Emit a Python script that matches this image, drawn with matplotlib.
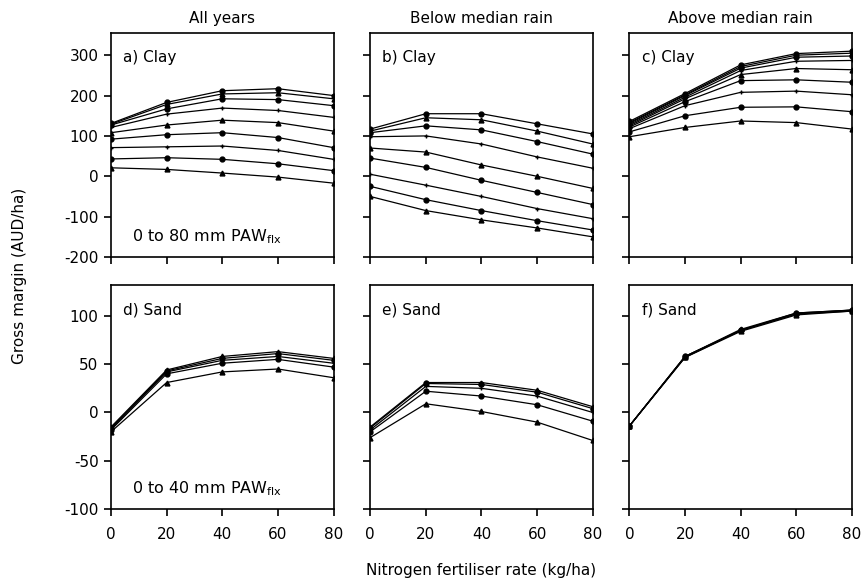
import matplotlib
matplotlib.use("Agg")
import matplotlib.pyplot as plt

plt.rcParams['font.family'] = ['DejaVu Sans']
plt.rcParams['axes.unicode_minus'] = False

n_rate = [0, 20, 40, 60, 80]

# a) Clay, all years (lines from low to high PAW)
clay_all = [
    [21, 17, 8, -2, -17],
    [43, 46, 42, 31, 14],
    [71, 73, 75, 64, 42],
    [92, 103, 108, 96, 71],
    [108, 127, 139, 133, 112],
    [121, 154, 169, 163, 146],
    [127, 167, 192, 190, 175],
    [129, 178, 204, 207, 192],
    [131, 183, 212, 217, 200],
]
# b) Clay, below median rain
clay_below = [
    [-50, -85, -108, -128, -150],
    [-25, -58, -85, -110, -133],
    [5, -22, -50, -80, -105],
    [45, 22, -10, -40, -70],
    [70, 60, 28, 0, -30],
    [98, 100, 80, 48, 20],
    [108, 125, 115, 86, 55],
    [112, 145, 140, 112, 80],
    [117, 155, 155, 130, 105],
]
# c) Clay, above median rain
clay_above = [
    [98, 121, 137, 133, 117],
    [110, 150, 171, 172, 160],
    [118, 175, 208, 211, 202],
    [122, 185, 237, 239, 233],
    [125, 192, 252, 267, 264],
    [128, 196, 262, 285, 287],
    [131, 200, 268, 295, 298],
    [133, 202, 272, 300, 305],
    [136, 205, 276, 304, 310],
]
# d) Sand, all years
sand_all = [
    [-20, 31, 42, 45, 36],
    [-18, 40, 51, 55, 47],
    [-17, 42, 54, 58, 51],
    [-16, 43, 56, 61, 54],
    [-15, 44, 58, 63, 56],
]
# e) Sand, below median rain
sand_below = [
    [-26, 9, 1, -10, -29],
    [-20, 22, 17, 8, -9],
    [-18, 27, 25, 17, 0],
    [-16, 30, 29, 21, 4],
    [-15, 31, 31, 23, 6],
]
# f) Sand, above median rain
sand_above = [
    [-14, 57, 84, 101, 105],
    [-14, 57, 85, 102, 105],
    [-14, 58, 85, 102, 106],
    [-14, 58, 85, 103, 106],
    [-14, 58, 86, 103, 106],
]

col_titles = ["All years", "Below median rain", "Above median rain"]
panel_labels = ["a) Clay", "b) Clay", "c) Clay", "d) Sand", "e) Sand", "f) Sand"]
clay_yticks = [-200, -100, 0, 100, 200, 300]
sand_yticks = [-100, -50, 0, 50, 100]
xticks = [0, 20, 40, 60, 80]

markers = ['^', 'o', '+', 'o', '^', '+', 'o', '^', 'o']

fig, axes = plt.subplots(2, 3, figsize=(8.64, 5.82), dpi=100)
fig.subplots_adjust(left=0.1285, right=0.986, top=0.9433, bottom=0.1254,
                    wspace=0.165, hspace=0.125)

data = [clay_all, clay_below, clay_above, sand_all, sand_below, sand_above]

for i, ax in enumerate(axes.flat):
    row, col = divmod(i, 3)
    for j, series in enumerate(data[i]):
        ax.plot(n_rate, series, color='black', lw=0.9,
                marker=markers[j % len(markers)], ms=3.5, mew=1.0)
    ax.set_xlim(0, 80)
    ax.set_xticks(xticks)
    if row == 0:
        ax.set_ylim(-200, 355)
        ax.set_yticks(clay_yticks)
        ax.set_title(col_titles[col], fontsize=11, pad=7)
        ax.tick_params(axis='x', labelbottom=False)
    else:
        ax.set_ylim(-100, 132)
        ax.set_yticks(sand_yticks)
        ax.tick_params(axis='x', labelbottom=True)
    if col != 0:
        ax.tick_params(axis='y', labelleft=False)
    ax.tick_params(direction='out', length=5, width=1.2, labelsize=11, pad=4)
    ax.tick_params(axis='x', pad=8)
    for s in ax.spines.values():
        s.set_linewidth(1.2)
    ax.text(0.055, 0.89, panel_labels[i], transform=ax.transAxes,
            fontsize=11, va='center', ha='left')

axes[0, 0].text(0.095, 0.05, r'0 to 80 mm PAW$_{\mathrm{flx}}$',
                transform=axes[0, 0].transAxes, fontsize=11.5, va='bottom', ha='left')
axes[1, 0].text(0.095, 0.05, r'0 to 40 mm PAW$_{\mathrm{flx}}$',
                transform=axes[1, 0].transAxes, fontsize=11.5, va='bottom', ha='left')

fig.text(20 / 864, 1 - 276 / 582, 'Gross margin (AUD/ha)', rotation=90,
         ha='center', va='center', fontsize=11)
fig.text(481 / 864, 1 - 570 / 582, 'Nitrogen fertiliser rate (kg/ha)',
         ha='center', va='center', fontsize=11)

fig.savefig('out.png', dpi=100)
